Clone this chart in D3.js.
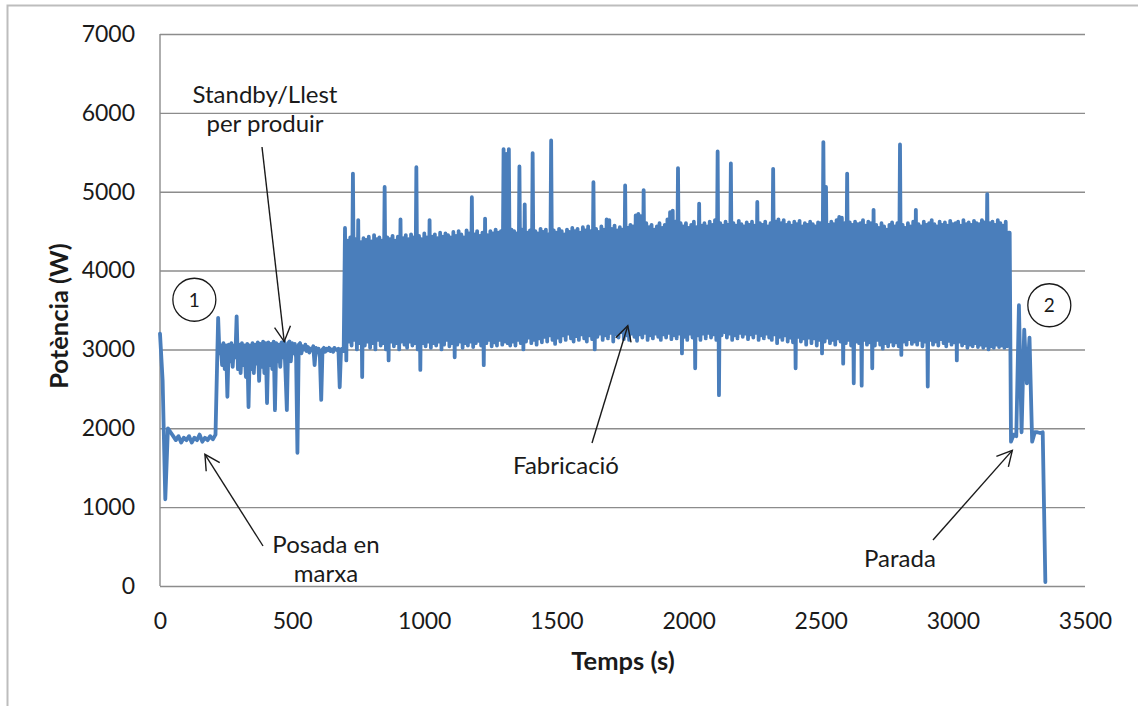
<!DOCTYPE html>
<html>
<head>
<meta charset="utf-8">
<script src="https://cdn.jsdelivr.net/npm/d3@7"></script>
<style>
  html, body { margin: 0; padding: 0; background: #fff; }
  svg { display: block; }
  text { font-family: Lato, "Open Sans", sans-serif; fill: #1a1a1a; }
</style>
</head>
<body>
<svg id="chart" width="1138" height="706"></svg>
<script>
// ---------------- DATA ----------------
// Start-up: t = 0 ... 210 s, one sample every 10 s
const startupStart = 0, startupInterval = 10;
const powerStartup = [
  3200, 2600, 1100, 2000, 1950, 1900, 1850, 1900, 1820, 1880,
  1850, 1900, 1820, 1880, 1850, 1920, 1830, 1880, 1850, 1900,
  1860, 1920
];

// Standby / ready: t = 220 ... 695 s, one sample every 5 s
const standbyStart = 220, standbyInterval = 5;
const powerStandby = [
  3400, 2950, 3050, 2800, 3080, 2750, 3050, 2400, 3060, 2850,
  3080, 2780, 3050, 2900, 3420, 2750, 3060, 2700, 3080, 2800,
  3050, 2650, 3070, 2270, 3050, 2750, 3080, 2700, 3060, 2820,
  3090, 2600, 3070, 2780, 3100, 2700, 3080, 2320, 3090, 2800,
  3070, 2750, 3100, 2230, 3080, 2850, 3060, 2780, 3090, 2900,
  3100, 2700, 2230, 3080, 3100, 2850, 3080, 2950, 3070, 2900,
  1690, 3060, 3080, 2950, 3040, 3000, 3060, 2980, 3030, 2960,
  3010, 2990, 3040, 2800, 3020, 2980, 3010, 2900, 2360, 3000,
  3020, 2970, 3010, 2990, 3020, 2980, 3000, 2970, 3020, 3000,
  2990, 3010, 2520, 3000, 3010, 2980
];

// Production: t = 700 ... 3215 s, one sample every 5 s (peak, trough pairs)
const productionStart = 700, productionInterval = 5;
const powerProduction = [
  4540,2860, 4380,3100, 4420,3050, 5230,3120, 4400,3000, 4640,3080, 4360,2650, 4410,3050,
  4390,3100, 4430,3020, 4370,3080, 4450,3000, 4400,3120, 4420,3050, 4380,3080, 5060,3000,
  4420,2860, 4400,3100, 4440,3040, 4380,3080, 4430,3000, 4650,3100, 4410,3060, 4450,3020,
  4400,3100, 4460,3050, 4420,3080, 5310,3000, 4440,2740, 4400,3080, 4470,3040, 4420,3100,
  4640,3020, 4430,3080, 4460,3050, 4410,3100, 4480,3000, 4430,3060, 4470,3120, 4450,3040,
  4420,3080, 4490,2900, 4440,3060, 4500,3100, 4460,3020, 4420,3080, 4510,3050, 4470,3100,
  4930,3030, 4460,3080, 4500,3110, 4440,3050, 4480,2800, 4660,3080, 4450,3120, 4500,3040,
  4470,3090, 4520,3050, 4480,3120, 4500,3060, 5540,3100, 5480,3080, 5540,3050, 4520,3100,
  4500,3050, 4470,3120, 5320,3080, 4520,3000, 4840,3100, 4480,3150, 4510,3080, 5490,3120,
  4500,3060, 4470,3140, 4530,3090, 4490,3160, 4520,3100, 4460,3180, 5650,3120, 4510,3070,
  4480,3150, 4530,3100, 4500,3180, 4460,3120, 4520,3200, 4490,3140, 4540,3100, 4500,3170,
  4530,3120, 4480,3190, 4550,3140, 4510,3100, 4560,3180, 4500,3130, 5120,3000, 4530,3160,
  4490,3200, 4560,3120, 4520,3180, 4650,3140, 4640,3210, 4530,3100, 4570,3190, 4510,3150,
  4550,3220, 4520,3130, 5080,3180, 4540,3120, 4580,3200, 4560,3160, 4700,3110, 4720,3190,
  4690,3150, 5020,3210, 4600,3120, 4550,3180, 4580,3140, 4520,3200, 4560,3160, 4600,3120,
  4540,3190, 4580,3150, 4650,3210, 4740,3130, 4760,3180, 4620,3140, 5300,3200, 4600,2950,
  4560,3160, 4600,3120, 4540,3200, 4580,3150, 4620,2760, 4550,3180, 4850,3120, 4570,3200,
  4600,3140, 4560,3210, 4620,3150, 4580,3190, 4640,3120, 5510,2420, 4600,3180, 4570,3220,
  4620,3150, 4580,3200, 5360,3120, 4600,3180, 4570,3140, 4630,3210, 4590,3160, 4560,3200,
  4610,3130, 4580,3190, 4620,3150, 4570,3210, 4870,3120, 4600,3180, 4580,3140, 4620,3200,
  4560,3150, 4600,3120, 5290,3190, 4620,3080, 4650,3160, 4600,3120, 4640,3180, 4580,3100,
  4610,3150, 4570,3090, 4620,2760, 4590,3160, 4630,3100, 4560,3140, 4600,3060, 4580,3150,
  4620,3080, 4590,3140, 4560,3050, 4610,3120, 4600,2950, 5630,3100, 5060,3150, 4580,3080,
  4620,3120, 4590,3060, 4640,3140, 4680,3100, 4670,2820, 4600,3080, 5230,3120, 4610,3050,
  4580,2570, 4620,3100, 4590,3080, 4600,2540, 4640,3120, 4570,3060, 4620,3090, 4600,2760,
  4770,3050, 4580,3120, 4540,3060, 4600,3010, 4560,3080, 4520,3040, 4580,3100, 4610,3050,
  4560,3090, 4600,3040, 5600,2930, 4580,3100, 4540,3060, 4600,3130, 4560,3070, 4620,3100,
  4770,3060, 4590,3120, 4560,3040, 4620,3100, 4580,2530, 4600,3120, 4640,3060, 4590,3100,
  4560,3050, 4620,3130, 4580,3080, 4610,3040, 4570,3110, 4630,3060, 4590,3090, 4600,2860,
  4620,3100, 4570,3050, 4640,3080, 4590,3020, 4610,3060, 4580,3040, 4630,3080, 4600,3030,
  4590,3060, 4640,3020, 4610,3050, 4970,3000, 4600,3040, 4620,3020, 4580,3060, 4640,3030,
  4600,3050, 4570,3020, 4620,3040, 4480,4480
];

// Shutdown: t = 3220 ... 3350 s, one sample every 10 s
const shutdownStart = 3220, shutdownInterval = 10;
const powerShutdown = [
  1830, 1920, 1900, 3560, 1950, 3250, 2570, 3150, 1830, 1950, 1950, 1940, 1950, 50
];

const yTicks = [0, 1000, 2000, 3000, 4000, 5000, 6000, 7000];
const xTicks = [0, 500, 1000, 1500, 2000, 2500, 3000, 3500];
const xTitle = "Temps (s)";
const yTitle = "Potència (W)";

// Annotations: label lines and the (time, power) point each arrow points to
const annotationLabels = [
  ["Standby/Llest", "per produir"],
  ["Posada en", "marxa"],
  ["Fabricació"],
  ["Parada"]
];
const annotationTips = [[470, 3100], [170, 1670], [1770, 3300], [3225, 1720]];
const circleLabels = ["1", "2"];
const circlePoints = [[130, 3630], [3365, 3560]];

// ---------------- CHART ----------------
const seg = (start, step, vals) => vals.map((v, i) => ({ t: start + i * step, v }));
const series = [].concat(
  seg(startupStart, startupInterval, powerStartup),
  seg(standbyStart, standbyInterval, powerStandby),
  seg(productionStart, productionInterval, powerProduction),
  seg(shutdownStart, shutdownInterval, powerShutdown)
);

const svg = d3.select("#chart");
const plot = { left: 160, right: 1085, top: 34, bottom: 586 };

const x = d3.scaleLinear().domain([0, 3500]).range([plot.left, plot.right]);
const y = d3.scaleLinear().domain([0, 7000]).range([plot.bottom, plot.top]);

// outer chart border
svg.append("rect")
  .attr("x", 7.5).attr("y", 5.5).attr("width", 1300).attr("height", 900)
  .attr("fill", "none").attr("stroke", "#bdbdbd").attr("stroke-width", 2);

// y axis + gridlines
const yAxis = svg.append("g")
  .attr("transform", `translate(${plot.left},0)`)
  .call(d3.axisLeft(y).tickValues(yTicks).tickSize(-(plot.right - plot.left)).tickPadding(25).tickFormat(d3.format("d")));
yAxis.select(".domain").remove();
yAxis.selectAll(".tick line").attr("stroke", "#8c8c8c").attr("stroke-width", 1.4);
yAxis.selectAll(".tick text").attr("font-size", 23).attr("font-family", "Lato").attr("fill", "#1a1a1a");

// left axis line
svg.append("line")
  .attr("x1", plot.left).attr("x2", plot.left)
  .attr("y1", plot.top).attr("y2", plot.bottom)
  .attr("stroke", "#8c8c8c").attr("stroke-width", 1.4);

// x axis labels
const xAxis = svg.append("g")
  .attr("transform", `translate(0,${plot.bottom})`)
  .call(d3.axisBottom(x).tickValues(xTicks).tickSize(0).tickPadding(27).tickFormat(d3.format("d")));
xAxis.select(".domain").remove();
xAxis.selectAll(".tick text").attr("font-size", 23).attr("font-family", "Lato").attr("fill", "#1a1a1a");

// titles
svg.append("text")
  .attr("x", 623).attr("y", 670)
  .attr("text-anchor", "middle").attr("font-size", 25.5).attr("font-weight", "bold")
  .text(xTitle);
svg.append("text")
  .attr("transform", `translate(68,316) rotate(-90)`)
  .attr("text-anchor", "middle").attr("font-size", 25.5).attr("font-weight", "bold")
  .text(yTitle);

// data line
const line = d3.line().x(d => x(d.t)).y(d => y(d.v));
svg.append("path")
  .datum(series)
  .attr("d", line)
  .attr("fill", "none")
  .attr("stroke", "#4a7ebb")
  .attr("stroke-width", 3.8)
  .attr("stroke-linejoin", "round")
  .attr("stroke-linecap", "round");

// arrow marker
svg.append("defs").append("marker")
  .attr("id", "arr").attr("viewBox", "0 0 18 18")
  .attr("refX", 16).attr("refY", 9)
  .attr("markerWidth", 18).attr("markerHeight", 18)
  .attr("markerUnits", "userSpaceOnUse").attr("orient", "auto")
  .append("path").attr("d", "M1,1 L16,9 L1,17")
  .attr("fill", "none").attr("stroke", "#1a1a1a").attr("stroke-width", 1.4);

// annotation layout (pixel positions of labels and arrow tails)
const annLayout = [
  { tx: 265, ty: 103, lh: 29, tail: [262, 147] },
  { tx: 326, ty: 553, lh: 29, tail: [263, 546] },
  { tx: 566, ty: 474, lh: 29, tail: [592, 443] },
  { tx: 900, ty: 567, lh: 29, tail: [933, 540] }
];
annotationLabels.forEach((lines, i) => {
  const L = annLayout[i];
  const tip = annotationTips[i];
  const t = svg.append("text").attr("text-anchor", "middle").attr("font-size", 24);
  lines.forEach((s, j) => {
    t.append("tspan").attr("x", L.tx).attr("y", L.ty + j * L.lh).text(s);
  });
  svg.append("line")
    .attr("x1", L.tail[0]).attr("y1", L.tail[1])
    .attr("x2", x(tip[0])).attr("y2", y(tip[1]))
    .attr("stroke", "#1a1a1a").attr("stroke-width", 1.4)
    .attr("marker-end", "url(#arr)");
});

// numbered circles
circleLabels.forEach((lab, i) => {
  const cx = x(circlePoints[i][0]), cy = y(circlePoints[i][1]);
  svg.append("circle").attr("cx", cx).attr("cy", cy).attr("r", 21.5)
    .attr("fill", "none").attr("stroke", "#1a1a1a").attr("stroke-width", 1.3);
  svg.append("text").attr("x", cx).attr("y", cy + 7).attr("text-anchor", "middle")
    .attr("font-size", 19).text(lab);
});
</script>
</body>
</html>
